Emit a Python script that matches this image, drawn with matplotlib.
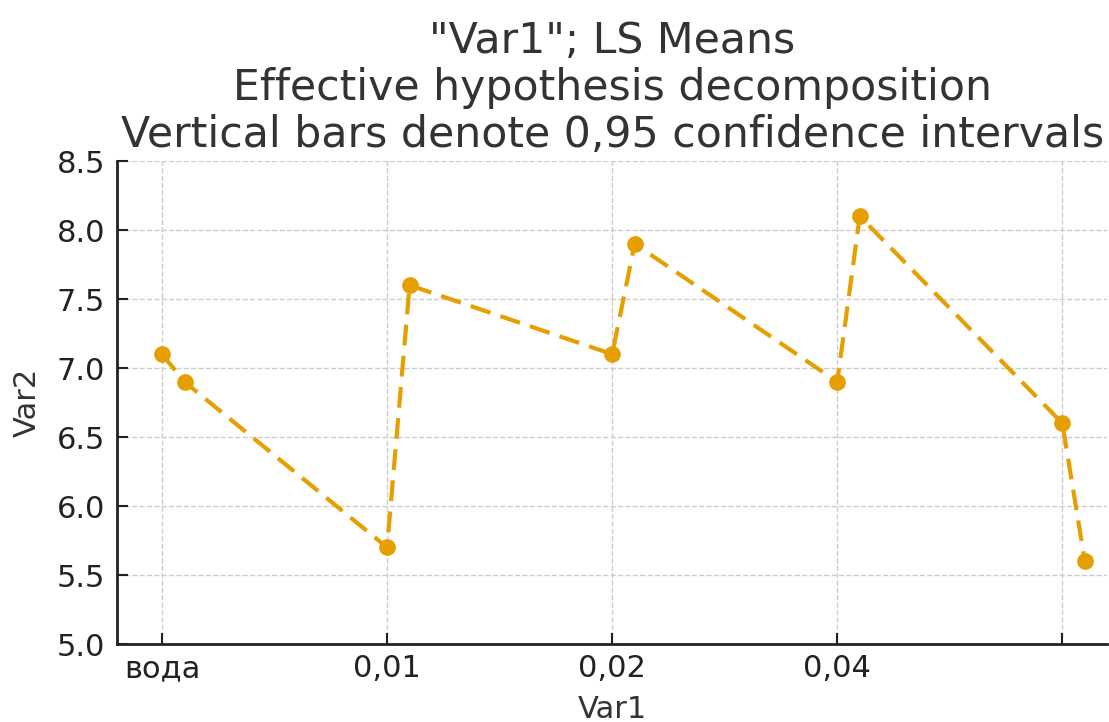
import matplotlib
matplotlib.use("Agg")
import matplotlib.pyplot as plt

x_pos = [0, 0.1, 1, 1.1, 2, 2.1, 3, 3.1, 4, 4.1]
var2 = [7.1, 6.9, 5.7, 7.6, 7.1, 7.9, 6.9, 8.1, 6.6, 5.6]
tick_pos = [0, 1, 2, 3, 4]
tick_labels = ["вода", "0,01", "0,02", "0,04", ""]
y_ticks = [5.0, 5.5, 6.0, 6.5, 7.0, 7.5, 8.0, 8.5]

fig = plt.figure(figsize=(11.09, 7.22), dpi=100)
ax = fig.add_axes([0.1055, 0.108, 0.893, 0.669])

ax.plot(x_pos, var2, color="#E69F00", linestyle="--", linewidth=3,
        marker="o", markersize=11, dashes=(5, 2.5), zorder=3)

ax.set_xlim(-0.2, 4.2)
ax.set_ylim(5.0, 8.5)
ax.set_xticks(tick_pos)
ax.set_xticklabels(tick_labels)
ax.set_yticks(y_ticks)
ax.set_yticklabels([f"{v:.1f}" for v in y_ticks])
ax.tick_params(direction="in", labelsize=22, length=8, width=1.5, colors="#222222")
ax.tick_params(axis="x", pad=7.5)
ax.tick_params(axis="y", pad=8.5)
ax.grid(True, linestyle="--", color="#cccccc", linewidth=1)
for s in ["top", "right"]:
    ax.spines[s].set_visible(False)
for s in ["left", "bottom"]:
    ax.spines[s].set_linewidth(2)
    ax.spines[s].set_color("#222222")

ax.set_xlabel("Var1", fontsize=22, color="#333333", labelpad=8)
ax.set_ylabel("Var2", fontsize=22, color="#333333", labelpad=11)
ax.set_title('"Var1"; LS Means\nEffective hypothesis decomposition\nVertical bars denote 0,95 confidence intervals',
             fontsize=30.7, color="#333333", pad=10, linespacing=1.15)

fig.savefig("out.png", dpi=100)
